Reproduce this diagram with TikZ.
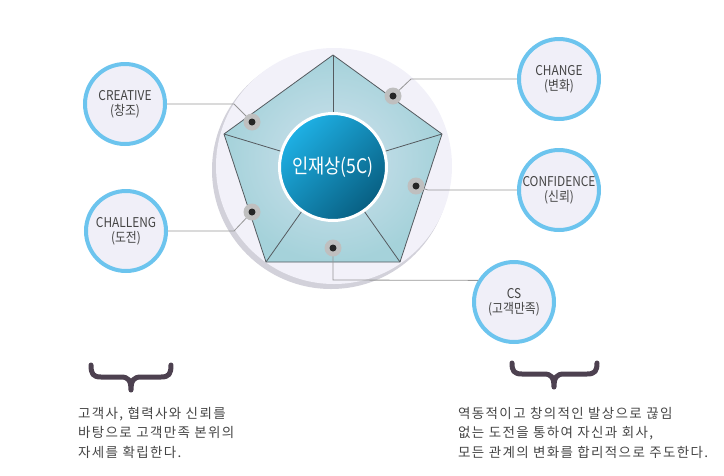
\documentclass[tikz,border=0pt]{standalone}
\usepackage{fontspec}
\setmainfont{Noto Sans CJK KR}
\newfontfamily\satfont[FakeStretch=0.88]{Noto Sans CJK KR}
\newfontfamily\bodyfont[LetterSpace=10]{Noto Sans CJK KR}
\definecolor{ring}{RGB}{108,196,238}
\definecolor{satfill}{RGB}{240,239,248}
\definecolor{txt}{RGB}{68,68,68}
\definecolor{wire}{RGB}{150,150,150}
\definecolor{bracec}{RGB}{77,65,80}
\definecolor{outerc}{RGB}{242,241,249}
\definecolor{shadowc}{RGB}{210,209,218}
\definecolor{pentout}{RGB}{165,210,218}
\definecolor{pentin}{RGB}{208,226,238}
\definecolor{edgec}{RGB}{85,90,95}
\definecolor{coretop}{RGB}{30,176,228}
\definecolor{corebot}{RGB}{8,95,130}
\tikzset{
  sat/.style={circle, draw=ring, line width=4pt, fill=satfill, minimum size=80pt,
    inner sep=0pt, align=center, text=txt, font=\satfont\fontsize{13.5}{15}\selectfont},
  wireline/.style={draw=wire, line width=0.8pt},
  edgeline/.style={draw=edgec, line width=0.8pt},
  halo/.style={circle, fill=gray!50, minimum size=17pt, inner sep=0pt},
  dotc/.style={circle, fill=black!85, minimum size=7pt, inner sep=0pt},
  bracel/.style={draw=bracec, line width=5pt, line cap=round, line join=round},
  bodytext/.style={anchor=north west, inner sep=0pt, align=left, text=txt,
    font=\bodyfont\fontsize{13.5}{19.5}\selectfont}
}
\begin{document}
\begin{tikzpicture}[x=1pt, y=-1pt]
\useasboundingbox (0,0) rectangle (724,475);
% outer disc with shadow
\fill[shadowc] (331,170) circle (119);
\fill[outerc] (334,166) circle (118);
% pentagon
\coordinate (v1) at (333,55);
\coordinate (v2) at (442,134);
\coordinate (v3) at (400,262);
\coordinate (v4) at (266,262);
\coordinate (v5) at (224,134);
\shade[inner color=pentin, outer color=pentout] (v1) -- (v2) -- (v3) -- (v4) -- (v5) -- cycle;
\draw[edgeline, line join=round] (v1) -- (v2) -- (v3) -- (v4) -- (v5) -- cycle;
% core
\node[circle, minimum size=107pt, inner sep=0pt, draw=white, line width=3pt,
  shading=axis, top color=coretop, bottom color=corebot, shading angle=45,
  text=white, font=\satfont\fontsize{20}{22}\selectfont] (core) at (333,167) {인재상(5C)};
\foreach \v in {v1,v2,v3,v4,v5} \draw[edgeline] (\v) -- (core);
% satellites
\node[sat] (creative) at (125,104) {CREATIVE\\(창조)};
\node[sat] (challeng) at (126,231) {CHALLENG\\(도전)};
\node[sat] (change) at (559,79) {CHANGE\\(변화)};
\node[sat] (confidence) at (559,190) {CONFIDENCE\\(신뢰)};
\node[sat] (cs) at (514,302) {CS\\(고객만족)};
% dots
\coordinate (d1) at (252,122);
\coordinate (d2) at (393,96);
\coordinate (d3) at (416,186);
\coordinate (d4) at (252,212);
\coordinate (d5) at (333,248);
% connectors
\coordinate (b1) at (234,104);
\coordinate (b2) at (411,79);
\coordinate (b3) at (428,190);
\coordinate (b4) at (234,231);
\coordinate (b5) at (333,280);
\draw[wireline] (d1) -- (b1) -- (creative.east);
\draw[wireline] (d2) -- (b2) -- (change.west);
\draw[wireline] (d3) -- (b3) -- (confidence.west);
\draw[wireline] (d4) -- (b4) -- (challeng.east);
\draw[wireline] (d5) -- (b5) -- (cs.149);
\foreach \d in {d1,d2,d3,d4,d5} {
  \node[halo] at (\d) {};
  \node[dotc] at (\d) {};
}
% braces
\draw[bracel] (91,365) .. controls (91,374) and (93,377) .. (101,377) -- (121,377)
  .. controls (128,377) and (131,380) .. (131,390)
  .. controls (131,380) and (134,377) .. (141,377) -- (161,377)
  .. controls (169,377) and (171,374) .. (171,365);
\draw[bracel] (512,363) .. controls (512,371) and (514,374) .. (522,374) -- (544,374)
  .. controls (551,374) and (554,377) .. (554,387)
  .. controls (554,377) and (557,374) .. (564,374) -- (587,374)
  .. controls (595,374) and (597,371) .. (597,363);
% texts
\node[bodytext] (lefttext) at (78,407) {고객사, 협력사와 신뢰를\\바탕으로 고객만족 본위의\\자세를 확립한다.};
\node[bodytext] (righttext) at (458,407) {역동적이고 창의적인 발상으로 끊임\\없는 도전을 통하여 자신과 회사,\\모든 관계의 변화를 합리적으로 주도한다.};
\end{tikzpicture}
\end{document}
